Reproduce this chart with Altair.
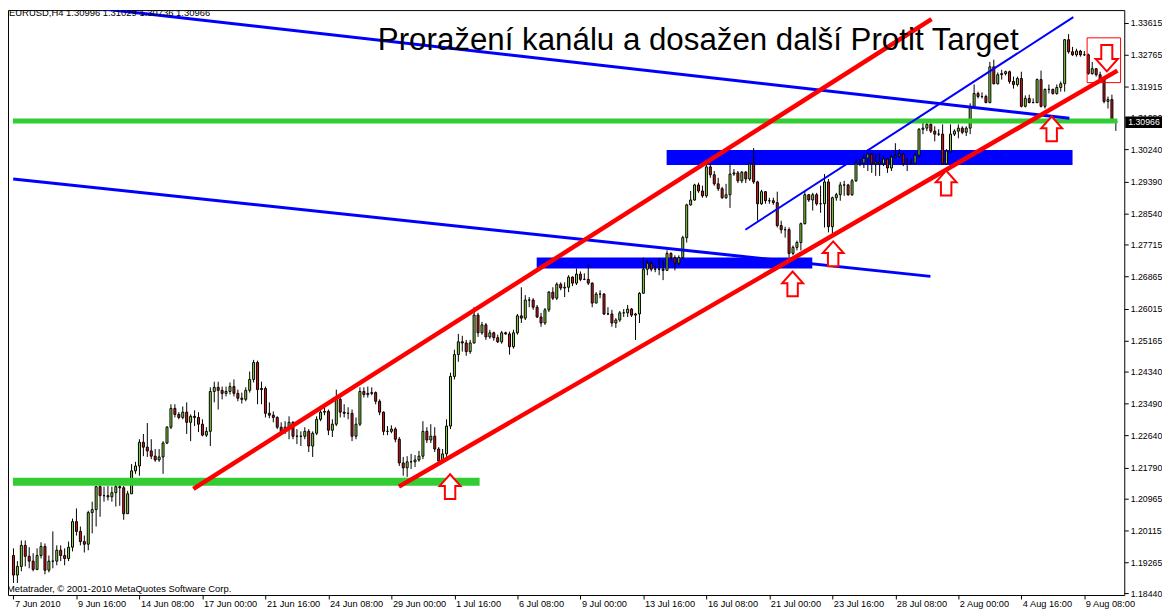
import altair as alt
import pandas as pd

# ---------------- data (EURUSD H4) ----------------
FIRST_OPEN = 1.1945
CLOSE = [
    1.1893, 1.1916, 1.1972, 1.1943, 1.1930, 1.1908, 1.1945, 1.1969, 1.1906, 1.1930,
    1.1930, 1.1959, 1.1945, 1.1937, 1.1967, 1.2035, 1.2009, 1.1982, 1.1975, 1.2059,
    1.2067, 1.2128, 1.2104, 1.2104, 1.2101, 1.2112, 1.2128, 1.2125, 1.2056, 1.2109,
    1.2170, 1.2183, 1.2246, 1.2233, 1.2223, 1.2209, 1.2199, 1.2207, 1.2244, 1.2286,
    1.2336, 1.2320, 1.2312, 1.2326, 1.2299, 1.2315, 1.2312, 1.2294, 1.2265, 1.2275,
    1.2381, 1.2392, 1.2384, 1.2376, 1.2381, 1.2394, 1.2376, 1.2363, 1.2360, 1.2384,
    1.2413, 1.2458, 1.2386, 1.2389, 1.2323, 1.2318, 1.2312, 1.2286, 1.2275, 1.2286,
    1.2299, 1.2262, 1.2262, 1.2262, 1.2275, 1.2236, 1.2270, 1.2307, 1.2326, 1.2328,
    1.2278, 1.2294, 1.2360, 1.2326, 1.2323, 1.2323, 1.2262, 1.2294, 1.2381, 1.2373,
    1.2376, 1.2378, 1.2355, 1.2326, 1.2275, 1.2275, 1.2281, 1.2254, 1.2191, 1.2178,
    1.2194, 1.2194, 1.2199, 1.2209, 1.2275, 1.2252, 1.2262, 1.2228, 1.2196, 1.2215,
    1.2289, 1.2421, 1.2479, 1.2513, 1.2510, 1.2487, 1.2510, 1.2584, 1.2537, 1.2558,
    1.2526, 1.2537, 1.2524, 1.2513, 1.2537, 1.2534, 1.2500, 1.2537, 1.2582, 1.2576,
    1.2624, 1.2624, 1.2605, 1.2579, 1.2563, 1.2598, 1.2645, 1.2629, 1.2666, 1.2656,
    1.2658, 1.2685, 1.2669, 1.2693, 1.2679, 1.2679, 1.2669, 1.2616, 1.2640, 1.2640,
    1.2587, 1.2587, 1.2563, 1.2571, 1.2590, 1.2590, 1.2600, 1.2584, 1.2587, 1.2642,
    1.2706, 1.2722, 1.2706, 1.2706, 1.2706, 1.2703, 1.2748, 1.2737, 1.2722, 1.2737,
    1.2790, 1.2877, 1.2890, 1.2930, 1.2914, 1.2901, 1.2978, 1.2957, 1.2933, 1.2920,
    1.2896, 1.2904, 1.2959, 1.2962, 1.2941, 1.2964, 1.2946, 1.2986, 1.2938, 1.2880,
    1.2912, 1.2888, 1.2888, 1.2883, 1.2822, 1.2811, 1.2811, 1.2748, 1.2764, 1.2777,
    1.2827, 1.2904, 1.2890, 1.2904, 1.2880, 1.2880, 1.2938, 1.2819, 1.2896, 1.2904,
    1.2930, 1.2930, 1.2904, 1.2941, 1.2986, 1.2988, 1.3001, 1.3012, 1.2986, 1.2991,
    1.2986, 1.2999, 1.2975, 1.3004, 1.3007, 1.3012, 1.2986, 1.2986, 1.2988, 1.3009,
    1.3078, 1.3081, 1.3091, 1.3073, 1.3065, 1.3065, 1.2986, 1.3020, 1.3065, 1.3073,
    1.3081, 1.3070, 1.3081, 1.3139, 1.3173, 1.3165, 1.3165, 1.3149, 1.3244, 1.3199,
    1.3223, 1.3226, 1.3231, 1.3205, 1.3197, 1.3213, 1.3139, 1.3160, 1.3149, 1.3149,
    1.3210, 1.3139, 1.3184, 1.3184, 1.3173, 1.3189, 1.3199, 1.3316, 1.3284, 1.3276,
    1.3286, 1.3276, 1.3276, 1.3226, 1.3239, 1.3223, 1.3210, 1.3152, 1.3157, 1.30996,
    1.30966,
]
HIGH = [
    1.1964, 1.1930, 1.1985, 1.1985, 1.1967, 1.1951, 1.1964, 1.1980, 1.1977, 1.1945,
    1.2009, 1.1972, 1.1972, 1.1964, 1.1982, 1.2043, 1.2070, 1.2022, 1.1998, 1.2064,
    1.2088, 1.2130, 1.2136, 1.2128, 1.2130, 1.2128, 1.2136, 1.2136, 1.2130, 1.2117,
    1.2188, 1.2194, 1.2254, 1.2268, 1.2297, 1.2254, 1.2228, 1.2228, 1.2249, 1.2289,
    1.2347, 1.2347, 1.2326, 1.2341, 1.2352, 1.2320, 1.2331, 1.2326, 1.2307, 1.2286,
    1.2392, 1.2407, 1.2407, 1.2394, 1.2394, 1.2405, 1.2413, 1.2386, 1.2378, 1.2392,
    1.2434, 1.2465, 1.2463, 1.2407, 1.2394, 1.2352, 1.2328, 1.2315, 1.2299, 1.2302,
    1.2315, 1.2302, 1.2281, 1.2275, 1.2286, 1.2281, 1.2275, 1.2315, 1.2339, 1.2339,
    1.2333, 1.2307, 1.2386, 1.2365, 1.2347, 1.2339, 1.2333, 1.2312, 1.2392, 1.2392,
    1.2394, 1.2392, 1.2381, 1.2360, 1.2328, 1.2289, 1.2291, 1.2286, 1.2260, 1.2207,
    1.2209, 1.2215, 1.2212, 1.2223, 1.2302, 1.2286, 1.2294, 1.2286, 1.2233, 1.2228,
    1.2307, 1.2431, 1.2492, 1.2534, 1.2529, 1.2518, 1.2518, 1.2605, 1.2590, 1.2566,
    1.2563, 1.2545, 1.2540, 1.2532, 1.2542, 1.2540, 1.2540, 1.2545, 1.2587, 1.2658,
    1.2637, 1.2632, 1.2629, 1.2611, 1.2590, 1.2603, 1.2648, 1.2658, 1.2671, 1.2671,
    1.2671, 1.2690, 1.2687, 1.2708, 1.2700, 1.2695, 1.2719, 1.2671, 1.2645, 1.2650,
    1.2642, 1.2605, 1.2598, 1.2576, 1.2595, 1.2600, 1.2611, 1.2603, 1.2590, 1.2645,
    1.2737, 1.2730, 1.2727, 1.2716, 1.2735, 1.2730, 1.2756, 1.2751, 1.2743, 1.2743,
    1.2795, 1.2880, 1.2914, 1.2933, 1.2936, 1.2928, 1.2986, 1.2986, 1.2967, 1.2949,
    1.2925, 1.2933, 1.2988, 1.2972, 1.2967, 1.2967, 1.2967, 1.2988, 1.3028, 1.2941,
    1.2917, 1.2914, 1.2896, 1.2896, 1.2912, 1.2835, 1.2819, 1.2817, 1.2769, 1.2782,
    1.2830, 1.2914, 1.2906, 1.2909, 1.2909, 1.2928, 1.2959, 1.2946, 1.2899, 1.2909,
    1.2938, 1.2941, 1.2933, 1.2946, 1.3001, 1.2999, 1.3012, 1.3025, 1.3015, 1.3012,
    1.3015, 1.3007, 1.3001, 1.3012, 1.3041, 1.3025, 1.3015, 1.3001, 1.2999, 1.3015,
    1.3081, 1.3099, 1.3099, 1.3094, 1.3086, 1.3078, 1.3091, 1.3025, 1.3091, 1.3078,
    1.3091, 1.3086, 1.3086, 1.3147, 1.3197, 1.3178, 1.3176, 1.3170, 1.3257, 1.3263,
    1.3229, 1.3236, 1.3234, 1.3234, 1.3218, 1.3218, 1.3231, 1.3168, 1.3170, 1.3160,
    1.3213, 1.3234, 1.3186, 1.3197, 1.3186, 1.3197, 1.3205, 1.3318, 1.3331, 1.3297,
    1.3292, 1.3289, 1.3286, 1.3279, 1.3257, 1.3239, 1.3231, 1.3213, 1.3165, 1.3170,
    1.31029,
]
LOW = [
    1.1872, 1.1872, 1.1903, 1.1916, 1.1911, 1.1903, 1.1906, 1.1937, 1.1895, 1.1900,
    1.1911, 1.1919, 1.1930, 1.1919, 1.1930, 1.1956, 1.1998, 1.1972, 1.1953, 1.1959,
    1.2004, 1.2022, 1.2048, 1.2088, 1.2091, 1.2088, 1.2075, 1.2077, 1.2040, 1.2056,
    1.2109, 1.2162, 1.2157, 1.2209, 1.2207, 1.2201, 1.2194, 1.2194, 1.2162, 1.2241,
    1.2281, 1.2312, 1.2307, 1.2307, 1.2268, 1.2249, 1.2289, 1.2273, 1.2262, 1.2260,
    1.2236, 1.2352, 1.2333, 1.2360, 1.2368, 1.2373, 1.2368, 1.2355, 1.2349, 1.2355,
    1.2378, 1.2405, 1.2347, 1.2347, 1.2312, 1.2310, 1.2299, 1.2281, 1.2268, 1.2268,
    1.2254, 1.2254, 1.2241, 1.2236, 1.2254, 1.2220, 1.2207, 1.2265, 1.2302, 1.2318,
    1.2265, 1.2260, 1.2289, 1.2312, 1.2312, 1.2307, 1.2249, 1.2254, 1.2289, 1.2365,
    1.2365, 1.2371, 1.2347, 1.2318, 1.2265, 1.2265, 1.2270, 1.2246, 1.2183, 1.2157,
    1.2154, 1.2175, 1.2180, 1.2194, 1.2201, 1.2244, 1.2244, 1.2220, 1.2186, 1.2196,
    1.2207, 1.2281, 1.2413, 1.2460, 1.2487, 1.2476, 1.2481, 1.2508, 1.2526, 1.2532,
    1.2518, 1.2521, 1.2516, 1.2510, 1.2508, 1.2532, 1.2479, 1.2495, 1.2532, 1.2563,
    1.2571, 1.2605, 1.2598, 1.2576, 1.2553, 1.2558, 1.2592, 1.2624, 1.2624, 1.2650,
    1.2632, 1.2645, 1.2661, 1.2664, 1.2674, 1.2677, 1.2664, 1.2605, 1.2616, 1.2629,
    1.2584, 1.2584, 1.2553, 1.2550, 1.2566, 1.2579, 1.2579, 1.2579, 1.2518, 1.2563,
    1.2642, 1.2690, 1.2700, 1.2698, 1.2690, 1.2677, 1.2703, 1.2729, 1.2703, 1.2716,
    1.2732, 1.2777, 1.2875, 1.2888, 1.2909, 1.2896, 1.2896, 1.2949, 1.2928, 1.2914,
    1.2893, 1.2893, 1.2869, 1.2954, 1.2935, 1.2935, 1.2935, 1.2941, 1.2933, 1.2835,
    1.2877, 1.2880, 1.2880, 1.2877, 1.2817, 1.2801, 1.2790, 1.2737, 1.2743, 1.2756,
    1.2756, 1.2825, 1.2885, 1.2862, 1.2875, 1.2856, 1.2817, 1.2804, 1.2801, 1.2888,
    1.2888, 1.2901, 1.2901, 1.2901, 1.2938, 1.2980, 1.2975, 1.2967, 1.2962, 1.2954,
    1.2954, 1.2980, 1.2962, 1.2967, 1.3001, 1.3001, 1.2980, 1.2967, 1.2986, 1.2986,
    1.3001, 1.3065, 1.3073, 1.3068, 1.3046, 1.3060, 1.2983, 1.2983, 1.3015, 1.3060,
    1.3054, 1.3065, 1.3060, 1.3065, 1.3133, 1.3160, 1.3160, 1.3147, 1.3147, 1.3197,
    1.3197, 1.3210, 1.3221, 1.3199, 1.3186, 1.3192, 1.3136, 1.3136, 1.3147, 1.3147,
    1.3147, 1.3136, 1.3133, 1.3173, 1.3170, 1.3170, 1.3178, 1.3178, 1.3279, 1.3273,
    1.3271, 1.3271, 1.3273, 1.3223, 1.3223, 1.3218, 1.3208, 1.3147, 1.3133, 1.3098,
    1.30736,
]

DATE_BARS = [1, 17, 33, 49, 65, 81, 97, 113, 129, 145, 161, 177, 193, 209, 225, 241, 257, 273]
DATE_LABELS = ["7 Jun 2010", "9 Jun 16:00", "14 Jun 08:00", "17 Jun 00:00", "21 Jun 16:00",
               "24 Jun 08:00", "29 Jun 00:00", "1 Jul 16:00", "6 Jul 08:00", "9 Jul 00:00",
               "13 Jul 16:00", "16 Jul 08:00", "21 Jul 00:00", "23 Jul 16:00", "28 Jul 08:00",
               "2 Aug 00:00", "4 Aug 16:00", "9 Aug 08:00"]
PRICE_TICKS = [1.33615, 1.32765, 1.31915, 1.3109, 1.3024, 1.2939, 1.2854, 1.27715, 1.26865,
               1.26015, 1.25165, 1.2434, 1.2349, 1.2264, 1.2179, 1.20965, 1.20115, 1.19265, 1.1844]
CURRENT_PRICE = 1.30966

# trend lines: (start bar, start price) -> (end bar, end price)
TREND_ID = ["blue_top", "blue_mid", "blue_thin", "red_upper", "red_lower"]
TREND_BAR1 = [15.2, 0.93, 186.9, 46.7, 98.9]
TREND_P1 = [1.3408, 1.2946, 1.2811, 1.2122, 1.2128]
TREND_BAR2 = [269.2, 233.9, 270.2, 234.2, 281.4]
TREND_P2 = [1.3107, 1.2687, 1.3376, 1.3371, 1.3234]

# horizontal green levels
LEVEL_P = [1.3100, 1.2141]
LEVEL_BAR1 = [0.875, 0.875]
LEVEL_BAR2 = [281.4, 119.4]

# blue zones
ZONE_BAR1 = [133.9, 166.9]
ZONE_BAR2 = [203.9, 270.0]
ZONE_P1 = [1.2708, 1.2983]
ZONE_P2 = [1.2737, 1.3023]

# arrows
UP_BAR = [111.9, 198.9, 209.2, 237.9, 264.7]
UP_P = [1.2128, 1.2667, 1.2747, 1.2935, 1.3079]
DOWN_BAR = [278.7]
DOWN_P = [1.3267]
BOX_BAR = [273.7, 282.2]
BOX_P = [1.3202, 1.3321]

TITLE = "Proražení kanálu a dosažen další Protit Target"
HEADER = "EURUSD,H4  1.30996 1.31029 1.30736 1.30966"
FOOTER = "Metatrader, © 2001-2010 MetaQuotes Software Corp."

# ---------------- tables ----------------
n = len(CLOSE)
opens = [FIRST_OPEN] + CLOSE[:-1]
candles = pd.DataFrame({
    "bar": list(range(1, n + 1)), "open": opens, "high": HIGH, "low": LOW, "close": CLOSE,
})
candles["dir"] = ["up" if c >= o else "down" for o, c in zip(opens, CLOSE)]

trends = pd.DataFrame({"id": TREND_ID, "b1": TREND_BAR1, "p1": TREND_P1,
                       "b2": TREND_BAR2, "p2": TREND_P2})
levels = pd.DataFrame({"p": LEVEL_P, "b1": LEVEL_BAR1, "b2": LEVEL_BAR2})
zones = pd.DataFrame({"b1": ZONE_BAR1, "b2": ZONE_BAR2, "p1": ZONE_P1, "p2": ZONE_P2})
ups = pd.DataFrame({"bar": UP_BAR, "p": UP_P})
downs = pd.DataFrame({"bar": DOWN_BAR, "p": DOWN_P})
box = pd.DataFrame({"b1": [BOX_BAR[0]], "b2": [BOX_BAR[1]], "p1": [BOX_P[0]], "p2": [BOX_P[1]]})
one = pd.DataFrame({"k": [0]})

FONT = "Liberation Sans"
XS = alt.Scale(domain=[0.875, 281.875], nice=False, zero=False)
YS = alt.Scale(domain=[1.18399, 1.33948], nice=False, zero=False)

label_arr = "[" + ",".join("'" + s + "'" for s in DATE_LABELS) + "]"
bars_arr = "[" + ",".join(str(b) for b in DATE_BARS) + "]"
XAXIS = alt.Axis(values=DATE_BARS, labelExpr=label_arr + "[indexof(" + bars_arr + ", datum.value)]",
                 title=None, grid=False, domain=False, ticks=True, tickSize=4, tickColor="black",
                 labelAlign="left", labelBaseline="top", labelPadding=1, labelOffset=1,
                 labelFont=FONT, labelFontSize=9.3, labelColor="black", labelFlush=False,
                 labelOverlap=False, orient="bottom")
YAXIS = alt.Axis(values=PRICE_TICKS, format=".5f", orient="right", title=None, grid=False,
                 domain=False, ticks=True, tickSize=4, tickColor="black", labelPadding=2,
                 labelFont=FONT, labelFontSize=8.8, labelColor="black", labelFlush=False,
                 labelOverlap=False)


def X(f):
    return alt.X(f, type="quantitative", scale=XS, axis=XAXIS)


def Y(f):
    return alt.Y(f, type="quantitative", scale=YS, axis=YAXIS)


zone_layer = alt.Chart(zones).mark_rect(color="#0000FF").encode(
    x=X("b1"), x2="b2", y=Y("p1"), y2="p2")

wicks = alt.Chart(candles).mark_rule(color="black", strokeWidth=1).encode(
    x=X("bar"), y=Y("low"), y2="high")

bodies = alt.Chart(candles).mark_bar(size=2, stroke="black", strokeWidth=1).encode(
    x=X("bar"), y=Y("open"), y2="close",
    color=alt.Color("dir:N", scale=alt.Scale(domain=["up", "down"], range=["#8CDC3C", "#DC1414"]),
                    legend=None))

level_top = alt.Chart(levels.iloc[[0]]).mark_rule(color="#32CD32", strokeWidth=5, clip=True).encode(
    x=X("b1"), x2="b2", y=Y("p"))
level_bot = alt.Chart(levels.iloc[[1]]).mark_rule(color="#32CD32", strokeWidth=8, clip=True).encode(
    x=X("b1"), x2="b2", y=Y("p"))

blue_thick = alt.Chart(trends[trends.id.isin(["blue_top", "blue_mid"])]).mark_rule(
    color="#0000FF", strokeWidth=3, clip=True).encode(x=X("b1"), x2="b2", y=Y("p1"), y2="p2")
blue_thin = alt.Chart(trends[trends.id == "blue_thin"]).mark_rule(
    color="#0000FF", strokeWidth=2, clip=True).encode(x=X("b1"), x2="b2", y=Y("p1"), y2="p2")
red_lines = alt.Chart(trends[trends.id.str.startswith("red")]).mark_rule(
    color="#FF0000", strokeWidth=4.5, clip=True).encode(x=X("b1"), x2="b2", y=Y("p1"), y2="p2")

UP_PATH = "M0,-1 L0.84,-0.06 L0.42,-0.06 L0.42,1 L-0.42,1 L-0.42,-0.06 L-0.84,-0.06 Z"
DOWN_PATH = "M0,1 L0.84,0.06 L0.42,0.06 L0.42,-1 L-0.42,-1 L-0.42,0.06 L-0.84,0.06 Z"
up_layer = alt.Chart(ups).mark_point(shape=UP_PATH, size=625, filled=True, color="white",
                                     stroke="#FF0000", strokeWidth=2, opacity=1).encode(
    x=X("bar"), y=Y("p"))
down_layer = alt.Chart(downs).mark_point(shape=DOWN_PATH, size=700, filled=True, color="white",
                                         stroke="#FF0000", strokeWidth=2, opacity=1).encode(
    x=X("bar"), y=Y("p"))
box_layer = alt.Chart(box).mark_rect(fillOpacity=0, stroke="#FF0000", strokeWidth=1).encode(
    x=X("b1"), x2="b2", y=Y("p1"), y2="p2")

title_layer = alt.Chart(one).mark_text(font=FONT, fontSize=31.5, color="black", align="center",
                                       baseline="alphabetic").encode(
    x=alt.value(695), y=alt.value(40), text=alt.value(TITLE))
header_layer = alt.Chart(one).mark_text(font=FONT, fontSize=9.5, color="black", align="left",
                                        baseline="alphabetic").encode(
    x=alt.value(1), y=alt.value(6), text=alt.value(HEADER))
footer_layer = alt.Chart(one).mark_text(font=FONT, fontSize=9.5, color="black", align="left",
                                        baseline="alphabetic").encode(
    x=alt.value(-1), y=alt.value(586), text=alt.value(FOOTER))

RECT_PATH = "M-1,-0.3 L1,-0.3 L1,0.3 L-1,0.3 Z"
price_box = alt.Chart(pd.DataFrame({"p": [CURRENT_PRICE]})).mark_point(
    shape=RECT_PATH, size=1444, filled=True, color="black", opacity=1, strokeWidth=0).encode(
    x=alt.value(1144), y=Y("p"))
price_text = alt.Chart(pd.DataFrame({"p": [CURRENT_PRICE]})).mark_text(
    font=FONT, fontSize=8.8, color="white", align="left", baseline="middle").encode(
    x=alt.value(1128), y=Y("p"), text=alt.value("1.30966"))

chart = alt.layer(
    zone_layer, wicks, bodies, level_top, level_bot, blue_thick, blue_thin, red_lines,
    up_layer, down_layer, box_layer, title_layer, header_layer, footer_layer,
    price_box, price_text,
).properties(
    width=1124, height=589,
    padding={"left": 0, "top": 0, "right": 38, "bottom": 17},
    autosize=alt.AutoSizeParams(type="none"),
    background="white",
).configure_view(stroke="black", strokeWidth=1)

chart.save("out.html", embed_options={"renderer": "svg", "actions": False})
